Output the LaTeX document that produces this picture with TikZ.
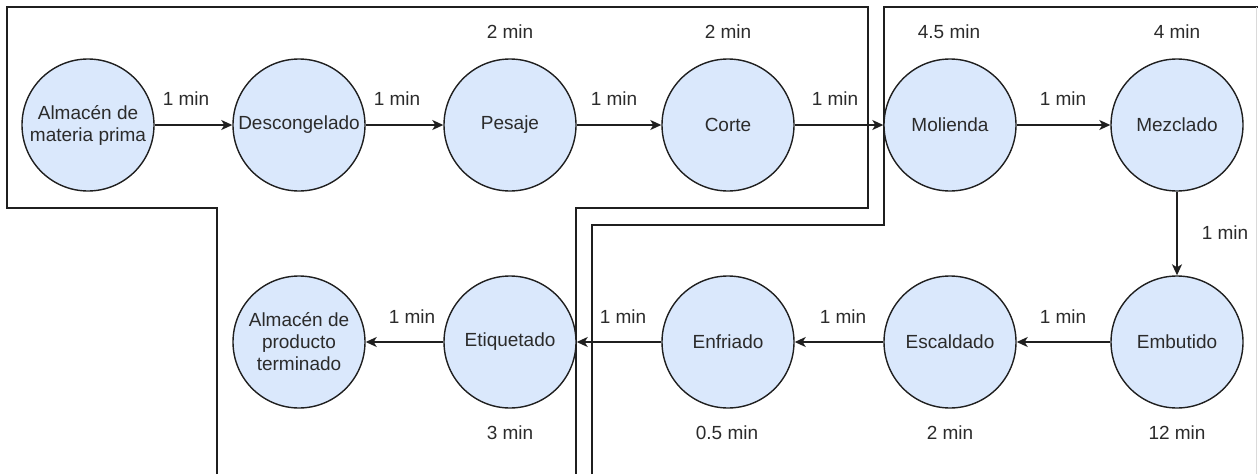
\documentclass[tikz,border=0pt]{standalone}
\usepackage{fontspec}
\setmainfont{Liberation Sans}
\usetikzlibrary{arrows.meta}
\definecolor{procfill}{HTML}{DAE8FC}
\definecolor{ink}{HTML}{1F1F1F}
\definecolor{txt}{HTML}{2B2B2B}
\definecolor{faint}{HTML}{DADADA}
\begin{document}
\begin{tikzpicture}[x=1pt,y=-1pt,
  proc/.style={circle, draw=ink, fill=procfill, line width=1.4pt,
    minimum size=132pt, inner sep=0pt, align=center,
    font=\fontsize{19}{22}\selectfont, text=txt},
  flow/.style={-{Stealth[length=11pt,width=10pt,inset=3pt]}, draw=ink, line width=1.4pt},
  tag/.style={font=\fontsize{19}{22}\selectfont, text=txt, inner sep=0pt},
  zone/.style={draw=ink, line width=1.4pt}]

\useasboundingbox (0,0) rectangle (1258,474);

% area boundaries
\draw[zone] (217,474) -- (217,208) -- (7,208) -- (7,7) -- (868,7) -- (868,208) -- (576,208) -- (576,474);
\draw[zone] (592,474) -- (592,225) -- (884,225) -- (884,7) -- (1258,7);
\draw[faint, line width=1pt] (1256,7) -- (1256,474);

% upper row
\node[proc] (mp)  at (88,125)   {Almacén de\\materia prima};
\node[proc] (des) at (299,125)  {Descongelado};
\node[proc] (pes) at (510,125)  {Pesaje};
\node[proc] (cor) at (728,125)  {Corte};
\node[proc] (mol) at (950,125)  {Molienda};
\node[proc] (mez) at (1177,125) {Mezclado};

% lower row
\node[proc] (emb) at (1177,342) {Embutido};
\node[proc] (esc) at (950,342)  {Escaldado};
\node[proc] (enf) at (728,342)  {Enfriado};
\node[proc] (eti) at (510,342)  {Etiquetado};
\node[proc] (pt)  at (299,342)  {Almacén de\\producto\\terminado};

% flow
\draw[flow] (mp) -- (des);
\draw[flow] (des) -- (pes);
\draw[flow] (pes) -- (cor);
\draw[flow] (cor) -- (mol);
\draw[flow] (mol) -- (mez);
\draw[flow] (mez) -- (emb);
\draw[flow] (emb) -- (esc);
\draw[flow] (esc) -- (enf);
\draw[flow] (enf) -- (eti);
\draw[flow] (eti) -- (pt);

% transfer times
\node[tag] (t1) at (186,99)   {1 min};
\node[tag] (t2) at (397,99)   {1 min};
\node[tag] (t3) at (614,99)   {1 min};
\node[tag] (t4) at (835,99)   {1 min};
\node[tag] (t5) at (1063,99)  {1 min};
\node[tag] (t6) at (1225,233) {1 min};
\node[tag] (t7) at (1063,317) {1 min};
\node[tag] (t8) at (843,317)  {1 min};
\node[tag] (t9) at (623,317)  {1 min};
\node[tag] (t10) at (412,317) {1 min};

% process times
\node[tag] (p1) at (510,32)   {2 min};
\node[tag] (p2) at (728,32)   {2 min};
\node[tag] (p3) at (949,32)   {4.5 min};
\node[tag] (p4) at (1177,32)  {4 min};
\node[tag] (p5) at (1177,433) {12 min};
\node[tag] (p6) at (950,433)  {2 min};
\node[tag] (p7) at (727,433)  {0.5 min};
\node[tag] (p8) at (510,433)  {3 min};
\end{tikzpicture}
\end{document}
